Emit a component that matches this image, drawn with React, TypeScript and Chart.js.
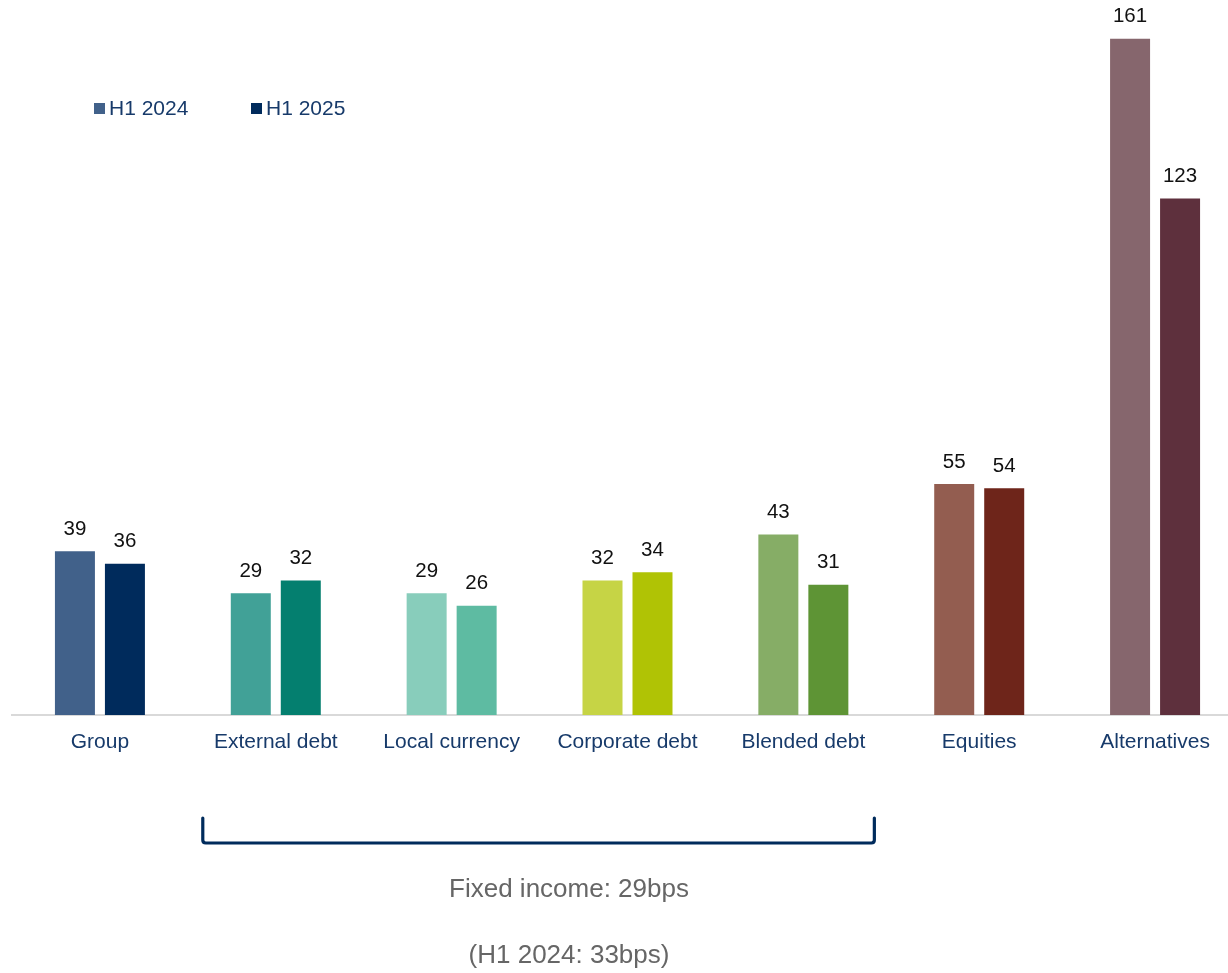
import React, { useEffect, useRef } from "react";
import { Chart, registerables } from "chart.js";

Chart.register(...registerables);

const categories = [
  "Group",
  "External debt",
  "Local currency",
  "Corporate debt",
  "Blended debt",
  "Equities",
  "Alternatives",
];
const seriesLabels = ["H1 2024", "H1 2025"];
const valuesH1_2024 = [39, 29, 29, 32, 43, 55, 161];
const valuesH1_2025 = [36, 32, 26, 34, 31, 54, 123];
const colorsH1_2024 = ["#41618A", "#41A197", "#88CDBB", "#C6D445", "#86AD66", "#935D50", "#86666D"];
const colorsH1_2025 = ["#002B5C", "#047F6F", "#5EBBA2", "#B0C305", "#5E9435", "#6E251A", "#5E303D"];
const bracketFrom = "External debt";
const bracketTo = "Blended debt";
const noteLines = ["Fixed income: 29bps", "(H1 2024: 33bps)"];

const FONT = "'Liberation Sans', Arial, Helvetica, sans-serif";
const NAVY_TEXT = "#173A6A";

const valueLabelPlugin = {
  id: "valueLabels",
  afterDatasetsDraw(chart: any) {
    const ctx = chart.ctx;
    ctx.save();
    ctx.font = `20.5px ${FONT}`;
    ctx.fillStyle = "#111111";
    ctx.textAlign = "center";
    ctx.textBaseline = "middle";
    chart.data.datasets.forEach((ds: any, di: number) => {
      const meta = chart.getDatasetMeta(di);
      meta.data.forEach((bar: any, i: number) => {
        ctx.fillText(String(ds.data[i]), bar.x, bar.y - 22);
      });
    });
    ctx.restore();
  },
};

const customLegendPlugin = {
  id: "customLegend",
  afterDraw(chart: any) {
    const ctx = chart.ctx;
    ctx.save();
    ctx.font = `21px ${FONT}`;
    ctx.textBaseline = "middle";
    ctx.textAlign = "left";
    const starts = [94, 251];
    chart.data.datasets.forEach((ds: any, di: number) => {
      const x = starts[di];
      ctx.fillStyle = ds.backgroundColor[0];
      ctx.fillRect(x, 103, 11, 11);
      ctx.fillStyle = NAVY_TEXT;
      ctx.fillText(ds.label, x + 15, 109);
    });
    ctx.restore();
  },
};

const bracketPlugin = {
  id: "bracket",
  afterDraw(chart: any) {
    const ctx = chart.ctx;
    const xs = chart.scales.x;
    const x1 = xs.getPixelForValue(categories.indexOf(bracketFrom)) - 73;
    const x2 = xs.getPixelForValue(categories.indexOf(bracketTo)) + 71;
    const yTop = 818;
    const yBot = 843;
    const r = 3;
    ctx.save();
    ctx.strokeStyle = "#002B5C";
    ctx.lineWidth = 3.2;
    ctx.lineCap = "round";
    ctx.lineJoin = "round";
    ctx.beginPath();
    ctx.moveTo(x1, yTop);
    ctx.lineTo(x1, yBot - r);
    ctx.quadraticCurveTo(x1, yBot, x1 + r, yBot);
    ctx.lineTo(x2 - r, yBot);
    ctx.quadraticCurveTo(x2, yBot, x2, yBot - r);
    ctx.lineTo(x2, yTop);
    ctx.stroke();

    ctx.fillStyle = "#666666";
    ctx.font = `26px ${FONT}`;
    ctx.textAlign = "center";
    ctx.textBaseline = "middle";
    ctx.fillText(noteLines[0], 569, 890);
    ctx.fillText(noteLines[1], 569, 956);
    ctx.restore();
  },
};

export default function App() {
  const canvasRef = useRef<HTMLCanvasElement | null>(null);

  useEffect(() => {
    if (!canvasRef.current) return;
    const chart = new Chart(canvasRef.current, {
      type: "bar",
      data: {
        labels: categories,
        datasets: [
          {
            label: seriesLabels[0],
            data: valuesH1_2024,
            backgroundColor: colorsH1_2024,
            borderWidth: 0,
          },
          {
            label: seriesLabels[1],
            data: valuesH1_2025,
            backgroundColor: colorsH1_2025,
            borderWidth: 0,
          },
        ],
      },
      options: {
        responsive: false,
        animation: false,
        devicePixelRatio: 1,
        layout: { padding: { left: 12, right: 2, top: 1, bottom: 0 } },
        datasets: {
          bar: { barPercentage: 0.8, categoryPercentage: 0.5686 },
        },
        plugins: {
          legend: { display: false },
          tooltip: { enabled: false },
          title: { display: false },
        },
        scales: {
          x: {
            grid: { display: false, drawTicks: false },
            border: { display: true, color: "#D9D9D9", width: 2 },
            ticks: {
              color: NAVY_TEXT,
              font: { family: FONT, size: 21 },
              padding: 15,
              maxRotation: 0,
              autoSkip: false,
            },
            afterFit: (scale: any) => {
              scale.height = 258;
            },
          },
          y: {
            display: false,
            min: 0,
            max: 170,
          },
        },
      },
      plugins: [valueLabelPlugin, customLegendPlugin, bracketPlugin],
    });
    return () => chart.destroy();
  }, []);

  return (
    <div
      style={{
        position: "absolute",
        left: 0,
        top: 0,
        width: 1228,
        height: 973,
        overflow: "hidden",
        background: "#ffffff",
      }}
    >
      <canvas
        ref={canvasRef}
        width={1245}
        height={973}
        style={{ display: "block", width: 1245, height: 973 }}
      />
    </div>
  );
}
